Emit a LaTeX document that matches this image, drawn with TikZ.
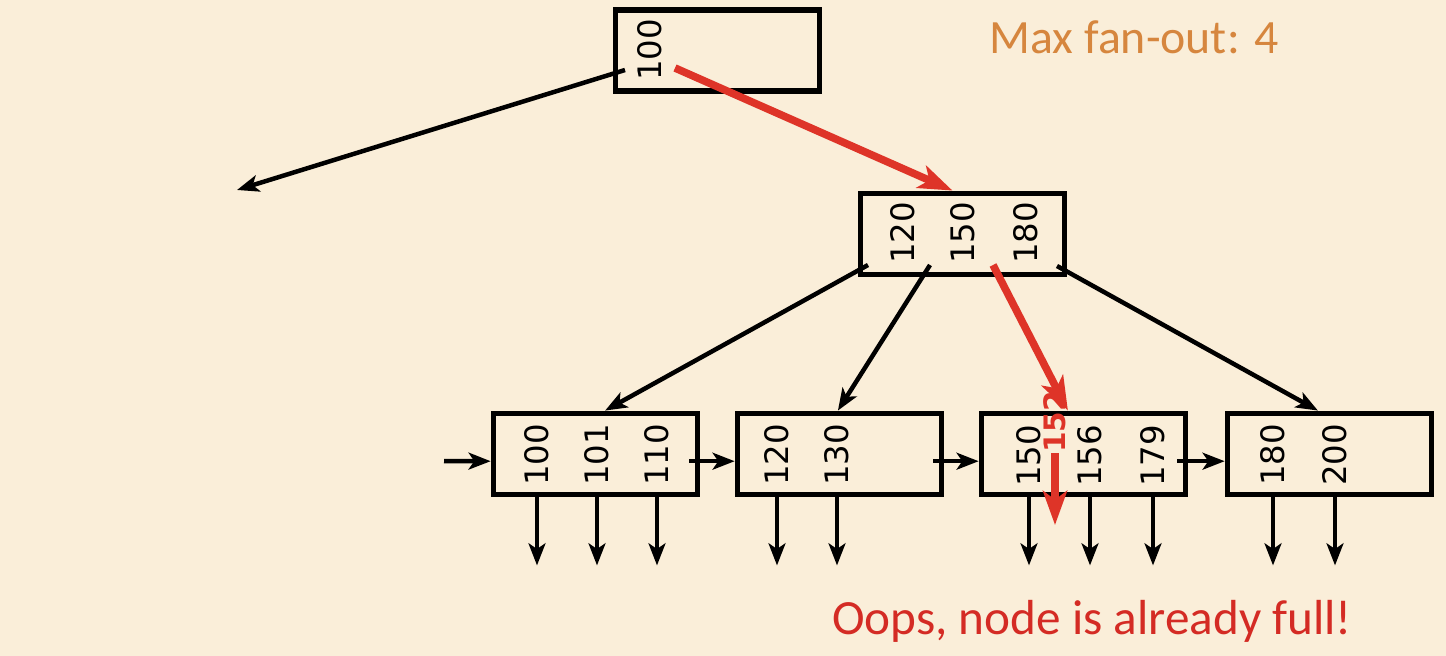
\documentclass[tikz,border=0pt]{standalone}
\usepackage{fontspec}
\setmainfont{Carlito}
\newfontfamily\numfont{DejaVu Sans}
\usetikzlibrary{arrows.meta}

\definecolor{bg}{RGB}{250,238,217}
\definecolor{fanout}{RGB}{214,134,62}
\definecolor{oops}{RGB}{212,43,36}
\definecolor{path}{RGB}{222,52,40}

\tikzset{
  page/.style={x=0.025cm, y=-0.025cm},
  blk/.style={draw=black, line width=4pt, minimum width=5.1cm, minimum height=2.03cm, inner sep=0pt},
  key/.style={rotate=90, inner sep=0pt, font=\numfont\fontsize{23}{23}\selectfont},
  ptr/.style={line width=3.2pt, -{Stealth[length=0.55cm, width=0.42cm, inset=0.14cm]}},
  hot/.style={path, line width=5.4pt, -{Stealth[length=0.85cm, width=0.6cm, inset=0.22cm]}},
}

\begin{document}
\begin{tikzpicture}[page]

\fill[bg] (0,0) rectangle (1446,656);
\useasboundingbox (0,0) rectangle (1446,656);

% boxes
\node[blk] (root) at (717.5,50.5) {};
\node[blk] (inner) at (962.5,234) {};
\node[blk] (leaf1) at (595.5,454) {};
\node[blk] (leaf2) at (839.5,454) {};
\node[blk] (leaf3) at (1083.5,454) {};
\node[blk] (leaf4) at (1329.5,454) {};

% keys
\node[key] (r1) at (650,50) {100};

\node[key] (i1) at (903,233) {120};
\node[key] (i2) at (963,233) {150};
\node[key] (i3) at (1026,233) {180};

\node[key] (a1) at (537,455) {100};
\node[key] (a2) at (597,455) {101};
\node[key] (a3) at (657,455) {110};

\node[key] (b1) at (777,455) {120};
\node[key] (b2) at (837,455) {130};

\node[key] (c1) at (1029,456) {150};
\node[key] (c2) at (1090,456) {156};
\node[key] (c3) at (1153,456) {179};

\node[key] (d1) at (1273,455) {180};
\node[key] (d2) at (1335,455) {200};

% root pointers
\coordinate (rl) at (625,70);
\coordinate (rr) at (675,68);
\coordinate (far) at (237,190);
\draw[ptr] (rl) -- (far);
\draw[hot] (rr) -- ([xshift=-0.25cm]inner.north);

% inner pointers
\coordinate (p0) at (868,265);
\coordinate (p1) at (930,265);
\coordinate (p2) at (993,265);
\coordinate (p3) at (1057,266);
\draw[ptr] (p0) -- ([xshift=0.24cm]leaf1.north);
\draw[ptr] (p1) -- ([xshift=-0.04cm]leaf2.north);
\draw[hot] (p2) -- ([xshift=-0.39cm]leaf3.north);
\draw[ptr] (p3) -- ([xshift=-0.29cm]leaf4.north);

% sibling links
\coordinate (in) at (444,461);
\draw[ptr] (in) -- ([yshift=-0.18cm]leaf1.west);
\draw[ptr] ([xshift=-0.28cm, yshift=-0.18cm]leaf1.east) -- ([yshift=-0.18cm]leaf2.west);
\draw[ptr] ([xshift=-0.28cm, yshift=-0.18cm]leaf2.east) -- ([yshift=-0.18cm]leaf3.west);
\draw[ptr] ([xshift=-0.28cm, yshift=-0.18cm]leaf3.east) -- ([yshift=-0.18cm]leaf4.west);

% record pointers
\foreach \k/\b in {a1/leaf1, a2/leaf1, a3/leaf1, b1/leaf2, b2/leaf2,
                   c1/leaf3, c2/leaf3, c3/leaf3, d1/leaf4, d2/leaf4}
  \draw[ptr] (\k |- \b.south) -- ++(0,68);

% new key
\node[rotate=90, inner sep=0pt, text=path, font=\numfont\bfseries\fontsize{21}{21}\selectfont] (new) at (1055,422) {152};
\coordinate (drop) at (1055,525);
\draw[hot] (new.west) -- (drop);

% captions
\node[text=fanout, font=\fontsize{34}{34}\selectfont] (fan) at (1134,37) {Max fan-out: 4};
\node[text=oops, font=\fontsize{35}{35}\selectfont] (full) at (1092,621) {Oops, node is already full!};

\end{tikzpicture}
\end{document}
